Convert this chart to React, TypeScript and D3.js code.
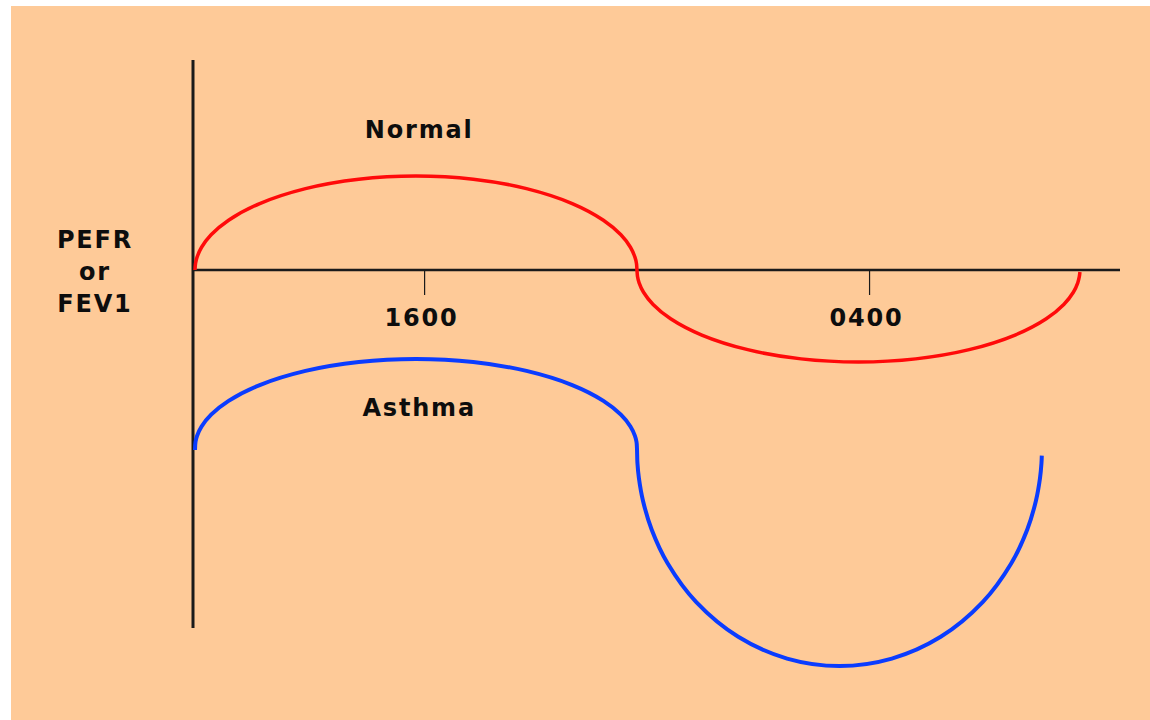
import React from "react";
import * as d3 from "d3";

// time axis in hours (24h clock, values past 24 = next day)
const xTickHours = [16, 28];
const xTickLabels = ["1600", "0400"];

// Normal curve: [hour, relative PEFR]
const normalHours = [
  9.754, 9.768, 9.812, 9.931, 10.188, 10.66, 11.5, 12.734, 14.171, 15.714, 17.257, 18.694, 19.928, 20.768, 21.24, 21.497, 21.616, 21.66,
  21.673, 21.688, 21.731, 21.85, 22.108, 22.581, 23.422, 24.66, 26.1, 27.646, 29.192, 30.633, 31.87, 32.711, 33.184, 33.442, 33.561, 33.604, 33.619,
];
const normalValues = [
  0, 0.0656, 0.1308, 0.2274, 0.3521, 0.4981, 0.6647, 0.8141, 0.908, 0.94, 0.908, 0.8141, 0.6647, 0.4981, 0.3521, 0.2274, 0.1308, 0.0656,
  0, -0.0642, -0.128, -0.2226, -0.3446, -0.4875, -0.6505, -0.7967, -0.8887, -0.92, -0.8887, -0.7967, -0.6505, -0.4875, -0.3446, -0.2226, -0.128, -0.0642, -0.02,
];

// Asthma curve
const asthmaHours = [
  9.754, 9.768, 9.812, 9.931, 10.188, 10.66, 11.5, 12.734, 14.171, 15.714, 17.257, 18.694, 19.928, 20.768, 21.24, 21.497, 21.616, 21.66,
  21.673, 21.686, 21.726, 21.835, 22.071, 22.503, 23.273, 24.404, 25.721, 27.134, 28.547, 29.865, 30.996, 31.765, 32.197, 32.433, 32.542, 32.582, 32.591,
];
const asthmaValues = [
  -1.8, -1.7179, -1.6561, -1.5647, -1.4466, -1.3084, -1.1507, -1.0092, -0.9203, -0.89, -0.9203, -1.0092, -1.1507, -1.3084, -1.4466, -1.5647, -1.6561, -1.7179,
  -1.78, -1.9321, -2.0834, -2.3074, -2.5967, -2.9352, -3.3215, -3.668, -3.8857, -3.96, -3.8857, -3.668, -3.3215, -2.9352, -2.5967, -2.3074, -2.0834, -1.9321, -1.856,
];

const yLabelLines = ["PEFR", "or", "FEV1"];

export default function App() {
  const W = 1150, H = 720;
  const x = d3.scaleLinear().domain([9.7, 34.7]).range([193, 1120]);
  const y = d3.scaleLinear().domain([-3.58, 2.1]).range([628, 60]);
  const line = d3
    .line<[number, number]>()
    .x((d) => x(d[0]))
    .y((d) => y(d[1]))
    .curve(d3.curveCatmullRom.alpha(0.5));
  const normal = normalHours.map((h, i) => [h, normalValues[i]] as [number, number]);
  const asthma = asthmaHours.map((h, i) => [h, asthmaValues[i]] as [number, number]);
  const font = { fontFamily: "DejaVu Sans", fontWeight: 700, fontSize: 24, letterSpacing: 1.8, fill: "#0d0d0d" } as any;
  const x0 = x.range()[0];
  const yZero = y(0);
  return (
    <svg width={W} height={H} style={{ position: "absolute", left: 0, top: 0 }}>
      <rect x={0} y={0} width={W} height={H} fill="#ffffff" />
      <rect x={11} y={6} width={W - 11} height={H - 6} fill="#FECA98" />
      {/* axes */}
      <line x1={x0} x2={x0} y1={y(2.1)} y2={y(-3.58)} stroke="#1a1a1a" strokeWidth={3} />
      <line x1={x0} x2={x.range()[1]} y1={yZero} y2={yZero} stroke="#1a1a1a" strokeWidth={2.5} />
      {xTickHours.map((h, i) => (
        <g key={i}>
          <line x1={x(h) - 2} x2={x(h) - 2} y1={yZero} y2={yZero + 25} stroke="#1a1a1a" strokeWidth={1.2} />
          <text x={x(h) - 5} y={326} textAnchor="middle" {...font}>
            {xTickLabels[i]}
          </text>
        </g>
      ))}
      {/* curves */}
      <path d={line(normal) || ""} fill="none" stroke="#FF0A0A" strokeWidth={3.5} />
      <path d={line(asthma) || ""} fill="none" stroke="#0A3CFF" strokeWidth={4} />
      {/* labels */}
      <text x={x(15.8)} y={138} textAnchor="middle" {...font}>Normal</text>
      <text x={x(15.8)} y={416} textAnchor="middle" {...font}>Asthma</text>
      {yLabelLines.map((t, i) => (
        <text key={i} x={95} y={248 + i * 32} textAnchor="middle" {...font}>
          {t}
        </text>
      ))}
    </svg>
  );
}
